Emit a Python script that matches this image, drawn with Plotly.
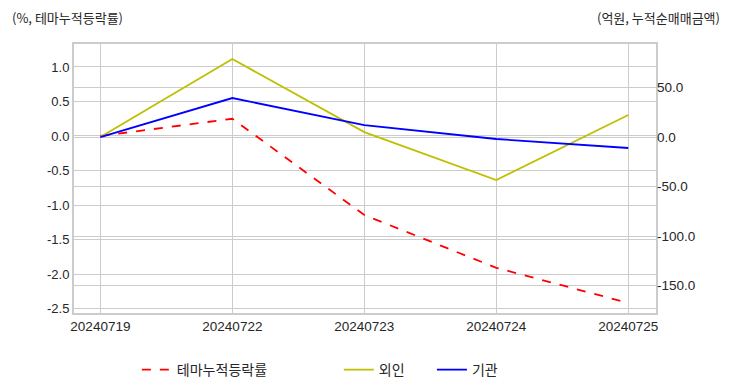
import plotly.graph_objects as go

dates = ["20240719", "20240722", "20240723", "20240724", "20240725"]
theme_cum = [0.0, 0.25, -1.145, -1.91, -2.42]
foreign_cum = [0.0, 78.8, 5.0, -43.4, 22.2]
inst_cum = [0.0, 39.4, 12.1, -2.0, -11.1]

left_ticks = [-2.5, -2.0, -1.5, -1.0, -0.5, 0.0, 0.5, 1.0]
left_ticklabels = ["-2.5", "-2.0", "-1.5", "-1.0", "-0.5", "0.0", "0.5", "1.0"]
right_ticks = [-150, -100, -50, 0, 50]
right_ticklabels = ["-150.0", "-100.0", "-50.0", "0.0", "50.0"]

FONT = "Liberation Sans, Noto Sans CJK KR, sans-serif"
KFONT = "Noto Sans CJK KR, sans-serif"
GRID = "#cccccc"

fig = go.Figure()
fig.add_trace(go.Scatter(x=dates, y=theme_cum, name="테마누적등락률", mode="lines",
                         line=dict(color="#ff0000", width=1.8, dash="dash"),
                         yaxis="y", legend="legend"))
fig.add_trace(go.Scatter(x=dates, y=foreign_cum, name="외인", mode="lines",
                         line=dict(color="#bfbf00", width=1.8),
                         yaxis="y2", legend="legend2"))
fig.add_trace(go.Scatter(x=dates, y=inst_cum, name="기관", mode="lines",
                         line=dict(color="#0000ff", width=1.8),
                         yaxis="y2", legend="legend3"))

leg_common = dict(orientation="h", yanchor="middle", y=-0.212, xanchor="left",
                  font=dict(family=KFONT, size=14, color="#262626"),
                  bgcolor="rgba(0,0,0,0)")

fig.update_layout(
    width=732, height=392,
    margin=dict(l=66, r=84, t=36, b=87, autoexpand=False),
    paper_bgcolor="white", plot_bgcolor="white",
    font=dict(family=FONT, size=13, color="#262626"),
    xaxis=dict(type="category", range=[-0.2, 4.21], showgrid=True, gridcolor=GRID,
               gridwidth=1, showline=True, linecolor=GRID, linewidth=2, mirror=True,
               ticks="", zeroline=False, tickfont=dict(size=13.5), automargin=False),
    yaxis=dict(range=[-2.565, 1.333], tickvals=left_ticks, ticktext=left_ticklabels,
               showgrid=True, gridcolor=GRID, gridwidth=1, showline=True,
               linecolor=GRID, linewidth=2, mirror=True, zeroline=False, ticks="",
               tickfont=dict(size=13), automargin=False),
    yaxis2=dict(range=[-177.8, 94.0], tickvals=right_ticks, ticktext=right_ticklabels,
                overlaying="y", side="right", showgrid=True, gridcolor=GRID,
                gridwidth=1, zeroline=False, ticks="", tickfont=dict(size=13.5),
                automargin=False),
    legend=dict(x=0.108, **leg_common),
    legend2=dict(x=0.455, **leg_common),
    legend3=dict(x=0.615, **leg_common),
    showlegend=True,
    annotations=[
        dict(text="(%, 테마누적등락률)", xref="paper", yref="paper", x=-0.11, y=1.10,
             xanchor="left", yanchor="middle", showarrow=False,
             font=dict(family=KFONT, size=13, color="#262626")),
        dict(text="(억원, 누적순매매금액)", xref="paper", yref="paper", x=1.1134, y=1.10,
             xanchor="right", yanchor="middle", showarrow=False,
             font=dict(family=KFONT, size=13, color="#262626")),
    ],
)

fig.write_html("out.html")
